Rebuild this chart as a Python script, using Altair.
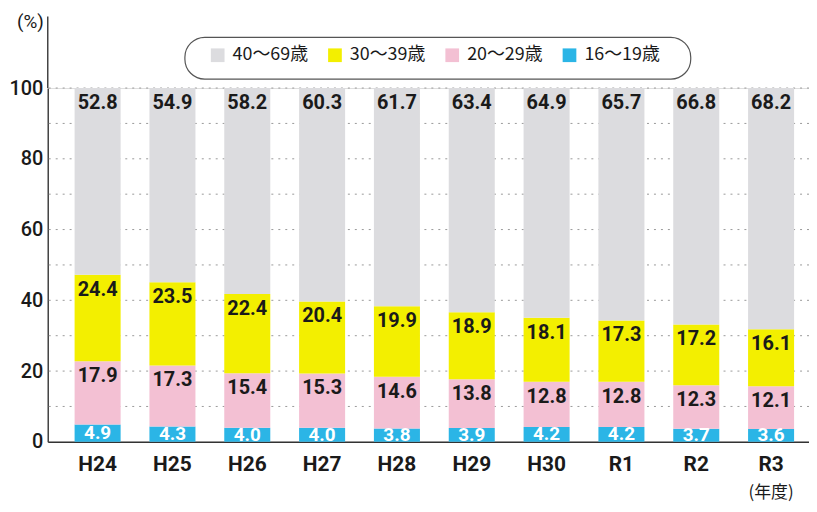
import altair as alt
import pandas as pd

years = ["H24", "H25", "H26", "H27", "H28", "H29", "H30", "R1", "R2", "R3"]
groups = ["40〜69歳", "30〜39歳", "20〜29歳", "16〜19歳"]
v40_69 = [52.8, 54.9, 58.2, 60.3, 61.7, 63.4, 64.9, 65.7, 66.8, 68.2]
v30_39 = [24.4, 23.5, 22.4, 20.4, 19.9, 18.9, 18.1, 17.3, 17.2, 16.1]
v20_29 = [17.9, 17.3, 15.4, 15.3, 14.6, 13.8, 12.8, 12.8, 12.3, 12.1]
v16_19 = [4.9, 4.3, 4.0, 4.0, 3.8, 3.9, 4.2, 4.2, 3.7, 3.6]
colors = ["#dcdcdf", "#f3ef00", "#f3c0d3", "#2bb5e6"]
y_ticks = [0, 20, 40, 60, 80, 100]
grid_lines = [10, 20, 30, 40, 50, 60, 70, 80, 90, 100]

series = [v40_69, v30_39, v20_29, v16_19]
rows = []
for gi, (g, vals) in enumerate(zip(groups, series)):
    for y, v in zip(years, vals):
        rows.append({"year": y, "group": g, "value": v, "ord": 3 - gi,
                     "label": f"{v:.1f}"})
df = pd.DataFrame(rows)

FONT = "Roboto"
CJK = "Noto Sans CJK JP"

base = alt.Chart(df).transform_stack(
    stack="value", groupby=["year"], sort=[alt.SortField("ord")], as_=["y0", "y1"]
).transform_calculate(ymid="(datum.y0 + datum.y1) / 2")

xscale = alt.Scale(domain=years, paddingInner=0.385, paddingOuter=0.279, align=0.643)

xenc = alt.X("year:N", sort=years, title=None, scale=xscale,
             axis=alt.Axis(labelAngle=0, labelFont=FONT, labelFontSize=21,
                           labelFontWeight="bold", labelColor="#1a1a1a",
                           labelPadding=12, ticks=False, domainColor="#333",
                           domainWidth=1.5, grid=False))

bars = base.mark_bar().encode(
    x=xenc,
    y=alt.Y("y0:Q", title="(%)",
            scale=alt.Scale(domain=[0, 100], nice=False),
            axis=alt.Axis(values=y_ticks,
                          labelFont=FONT, labelFontSize=20, labelColor="#1a1a1a",
                          labelFontWeight=500,
                          labelPadding=5, ticks=False, domainColor="#444",
                          domainWidth=1.5, grid=False,
                          titleAngle=0, titleX=-18, titleY=-67,
                          titleAlign="center", titleBaseline="middle",
                          titleFont=FONT, titleFontSize=19,
                          titleFontWeight="normal", titleColor="#1a1a1a")),
    y2="y1:Q",
    color=alt.Color("group:N", sort=groups,
                    scale=alt.Scale(domain=groups, range=colors),
                    legend=alt.Legend(orient="none", legendX=162, legendY=-42,
                                      direction="horizontal", title=None,
                                      symbolType="square", symbolSize=190,
                                      symbolStrokeWidth=0,
                                      labelFont=CJK, labelFontSize=18,
                                      labelColor="#1a1a1a", columnPadding=18,
                                      labelOffset=6, padding=0)),
    order=alt.Order("ord:Q"),
)

grid = alt.Chart(pd.DataFrame({"g": grid_lines})).mark_rule(
    color="#999", strokeDash=[2, 5], strokeWidth=1).encode(y="g:Q")

legend_box = alt.Chart(pd.DataFrame({"a": [0]})).mark_rect(
    fill="white", stroke="#555", strokeWidth=1.2, cornerRadius=20).encode(
    x=alt.value(138), x2=alt.value(647), y=alt.value(-51), y2=alt.value(-9))

top_labels = base.transform_filter(alt.datum.group != "16〜19歳").mark_text(
    font=FONT, fontSize=20, fontWeight="bold", color="#1a1a1a",
    baseline="middle", dy=15
).encode(x=alt.X("year:N", sort=years, scale=xscale), y="y1:Q", text="label:N")

bottom_labels = base.transform_filter(alt.datum.group == "16〜19歳").mark_text(
    font=FONT, fontSize=19, fontWeight="bold", color="white", baseline="middle"
).encode(x=alt.X("year:N", sort=years, scale=xscale), y="ymid:Q", text="label:N")

axis_ext = alt.Chart(pd.DataFrame({"a": [0]})).mark_rule(
    color="#444", strokeWidth=1.5).encode(
    x=alt.value(0), y=alt.value(-72), y2=alt.value(0))

nendo = alt.Chart(pd.DataFrame({"year": ["R3"], "t": ["(年度)"]})).mark_text(
    font=CJK, fontSize=17, color="#1a1a1a", baseline="middle"
).encode(x=alt.X("year:N", sort=years, scale=xscale), y=alt.value(408), text="t:N")

chart = alt.layer(grid, legend_box, bars, top_labels, bottom_labels, axis_ext, nendo).properties(
    width=766, height=356,
    autosize="none",
    padding={"left": 40, "top": 79, "right": 0, "bottom": 60},
).configure_view(stroke=None).configure(background="white")

chart.save("out.html", embed_options={"renderer": "svg", "actions": False})
